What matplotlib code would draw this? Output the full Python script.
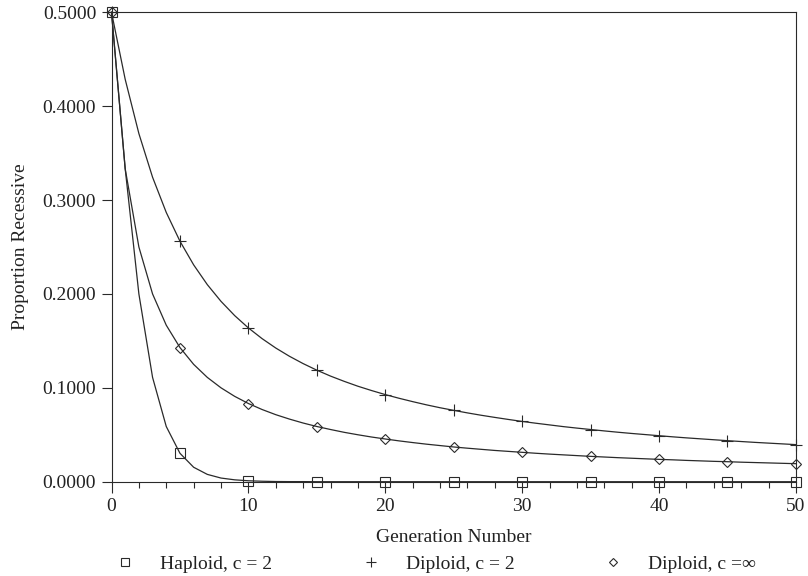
import matplotlib
matplotlib.use("Agg")
import matplotlib.pyplot as plt
from matplotlib.ticker import MultipleLocator, FormatStrFormatter
from matplotlib.lines import Line2D

plt.rcParams['font.family'] = ['Liberation Serif', 'DejaVu Serif']

generations = list(range(0, 51))

haploid_c2 = [0.5000, 0.3333, 0.2000, 0.1111, 0.0588, 0.0303, 0.0154, 0.0078, 0.0039, 0.0020,
              0.0010, 0.0005, 0.0002, 0.0001, 0.0001, 0.0000, 0.0000, 0.0000, 0.0000, 0.0000,
              0.0000, 0.0000, 0.0000, 0.0000, 0.0000, 0.0000, 0.0000, 0.0000, 0.0000, 0.0000,
              0.0000, 0.0000, 0.0000, 0.0000, 0.0000, 0.0000, 0.0000, 0.0000, 0.0000, 0.0000,
              0.0000, 0.0000, 0.0000, 0.0000, 0.0000, 0.0000, 0.0000, 0.0000, 0.0000, 0.0000,
              0.0000]

diploid_c2 = [0.5000, 0.4286, 0.3708, 0.3243, 0.2868, 0.2562, 0.2310, 0.2099, 0.1921, 0.1769,
              0.1638, 0.1524, 0.1424, 0.1336, 0.1258, 0.1188, 0.1125, 0.1069, 0.1017, 0.0971,
              0.0928, 0.0889, 0.0853, 0.0819, 0.0788, 0.0760, 0.0733, 0.0708, 0.0685, 0.0663,
              0.0642, 0.0623, 0.0605, 0.0587, 0.0571, 0.0556, 0.0541, 0.0527, 0.0514, 0.0502,
              0.0490, 0.0478, 0.0467, 0.0457, 0.0447, 0.0437, 0.0428, 0.0419, 0.0411, 0.0403,
              0.0395]

diploid_cinf = [0.5000, 0.3333, 0.2500, 0.2000, 0.1667, 0.1429, 0.1250, 0.1111, 0.1000, 0.0909,
                0.0833, 0.0769, 0.0714, 0.0667, 0.0625, 0.0588, 0.0556, 0.0526, 0.0500, 0.0476,
                0.0455, 0.0435, 0.0417, 0.0400, 0.0385, 0.0370, 0.0357, 0.0345, 0.0333, 0.0323,
                0.0313, 0.0303, 0.0294, 0.0286, 0.0278, 0.0270, 0.0263, 0.0256, 0.0250, 0.0244,
                0.0238, 0.0233, 0.0227, 0.0222, 0.0217, 0.0213, 0.0208, 0.0204, 0.0200, 0.0196,
                0.0192]

labels = ["Haploid, c = 2", "Diploid, c = 2", "Diploid, c =\u221e"]

col = "#2a2a2a"
fig = plt.figure(figsize=(8.08, 5.76), dpi=100)
ax = fig.add_axes([0.138, 0.1637, 0.847, 0.815])

series = [haploid_c2, diploid_c2, diploid_cinf]
markers = ['s', '+', 'D']
msizes = [7, 9, 5]
for vals, m, ms in zip(series, markers, msizes):
    ax.plot(generations, vals, color=col, lw=0.9, marker=m, markevery=5,
            markersize=ms, markerfacecolor='none', markeredgecolor=col,
            markeredgewidth=0.8, clip_on=False, zorder=3)

ax.set_xlim(0, 50)
ax.set_ylim(0, 0.5)
ax.xaxis.set_major_locator(MultipleLocator(10))
ax.xaxis.set_minor_locator(MultipleLocator(2))
ax.yaxis.set_major_locator(MultipleLocator(0.1))
ax.yaxis.set_major_formatter(FormatStrFormatter('%.4f'))
ax.tick_params(axis='both', which='major', direction='out', length=7, width=0.8,
               color=col, labelsize=14, labelcolor='#222222', pad=4)
ax.tick_params(axis='x', which='minor', direction='out', length=4, width=0.8, color=col)
ax.tick_params(axis='x', which='major', length=8)
ax.tick_params(axis='y', which='minor', left=False)
for s in ax.spines.values():
    s.set_linewidth(0.8)
    s.set_color(col)

ax.set_xlabel("Generation Number", fontsize=14, color='#222222', labelpad=10)
ax.set_ylabel("Proportion Recessive", fontsize=14, color='#222222', labelpad=10)

handles = [Line2D([], [], linestyle='none', marker=m, markersize=ms * 0.85,
                  markerfacecolor='none', markeredgecolor=col, markeredgewidth=0.8)
           for m, ms in zip(markers, msizes)]
fig.legend(handles, labels, loc='center left', bbox_to_anchor=(0.143, 0.021),
           ncol=3, frameon=False, fontsize=14, handlelength=1.0, handletextpad=1.3,
           columnspacing=4.55, borderaxespad=0, borderpad=0, labelcolor='#222222')

fig.savefig("out.png", dpi=100)
